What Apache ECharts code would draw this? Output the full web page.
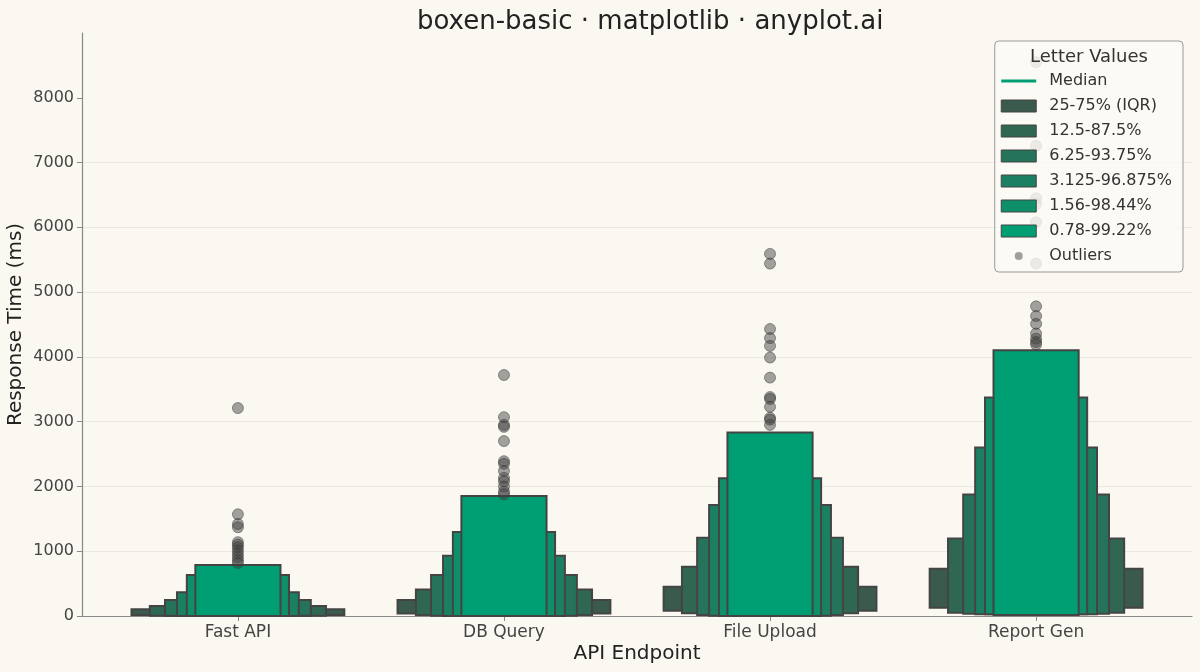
<!DOCTYPE html>
<html>
<head>
<meta charset="utf-8">
<script src="https://cdn.jsdelivr.net/npm/echarts@6/dist/echarts.min.js"></script>
<style>
html,body{margin:0;padding:0;background:#faf8f1;}
#main{width:1200px;height:672px;}
</style>
</head>
<body>
<div id="main"></div>
<script>
// categories and letter-value levels
var categories = ['Fast API', 'DB Query', 'File Upload', 'Report Gen'];
var levelNames = ['25-75% (IQR)', '12.5-87.5%', '6.25-93.75%', '3.125-96.875%', '1.56-98.44%', '0.78-99.22%'];

// box bottoms / tops per level (rows) and category (columns), in ms
var boxLow = [
  [15, 40, 82, 128],
  [5, 15, 41, 51],
  [2, 2, 15, 36],
  [1, 1, 2, 26],
  [1, 1, 1, 26],
  [1, 1, 1, 15]
];
var boxHigh = [
  [103, 247, 452, 730],
  [154, 411, 761, 1198],
  [247, 632, 1208, 1877],
  [365, 930, 1712, 2602],
  [632, 1296, 2128, 3373],
  [787, 1851, 2833, 4102]
];

// outliers per category
var fastOutliers = [3210, 1570, 1420, 1370, 1140, 1100, 1060, 1010, 960, 910, 860, 820];
var dbOutliers = [3720, 3070, 2950, 2920, 2700, 2390, 2350, 2240, 2130, 2080, 2000, 1920, 1880];
var uploadOutliers = [5590, 5440, 4430, 4290, 4170, 3990, 3680, 3380, 3350, 3230, 3060, 3030, 2950];
var reportOutliers = [8550, 7260, 6450, 6360, 6080, 5440, 4780, 4630, 4510, 4360, 4280, 4230, 4190];

var yTicks = [0, 1000, 2000, 3000, 4000, 5000, 6000, 7000, 8000];

// styles
var levelColors = ['#3a5a4d', '#2f6753', '#25735a', '#1a8061', '#0e8e69', '#009e73'];
var halfWidths = [0.40, 0.331, 0.274, 0.229, 0.192, 0.160];
var edgeColor = '#444444';
var font = 'DejaVu Sans';

var myChart = echarts.init(document.getElementById('main'));

var series = [];
series.push({
  name: 'Median',
  type: 'line',
  symbol: 'none',
  lineStyle: {color: '#009e73', width: 4},
  itemStyle: {color: '#009e73'},
  data: []
});

levelNames.forEach(function (name, k) {
  series.push({
    name: name,
    type: 'custom',
    z: 2,
    itemStyle: {color: levelColors[k], borderColor: edgeColor, borderWidth: 1},
    encode: {x: 0, y: [1, 2]},
    renderItem: function (params, api) {
      var x = api.value(0);
      var p0 = api.coord([x - halfWidths[k], api.value(2)]);
      var p1 = api.coord([x + halfWidths[k], api.value(1)]);
      return {
        type: 'rect',
        shape: {x: p0[0], y: p0[1], width: p1[0] - p0[0], height: p1[1] - p0[1]},
        style: {fill: levelColors[k], stroke: edgeColor, lineWidth: 2}
      };
    },
    data: categories.map(function (c, i) { return [i, boxLow[k][i], boxHigh[k][i]]; })
  });
});

var outlierData = [];
[fastOutliers, dbOutliers, uploadOutliers, reportOutliers].forEach(function (arr, i) {
  arr.forEach(function (v) { outlierData.push([i, v]); });
});
series.push({
  name: 'Outliers',
  type: 'scatter',
  z: 3,
  symbolSize: 11,
  itemStyle: {color: 'rgba(64,64,64,0.6)', borderColor: 'rgba(50,50,50,0.6)', borderWidth: 1},
  data: outlierData
});

// legend icons: shapes inside a 43x12 box so the text sits further right
var boxIcon = 'path://M0,0 L35,0 L35,12 L0,12 Z M43,0 L43,0';
var legendData = [{name: 'Median', icon: 'path://M0,4.5 L35,4.5 L35,7.5 L0,7.5 Z M0,0 L0,0 M43,12 L43,12',
  itemStyle: {color: '#009e73', borderWidth: 0}}];
levelNames.forEach(function (name, k) {
  legendData.push({name: name, icon: boxIcon, itemStyle: {color: levelColors[k], borderColor: edgeColor, borderWidth: 1}});
});
legendData.push({name: 'Outliers', icon: 'path://M13.5,6 A4,4 0 1,0 21.5,6 A4,4 0 1,0 13.5,6 Z M0,0 L0,0 M43,12 L43,12',
  itemStyle: {color: '#8a8a88', borderWidth: 0}});

var option = {
  backgroundColor: '#faf8f1',
  textStyle: {fontFamily: font},
  animation: false,
  title: {
    text: 'boxen-basic · matplotlib · anyplot.ai',
    left: 412,
    top: 4,
    textStyle: {fontFamily: font, fontSize: 26, fontWeight: 'normal', color: '#222'}
  },
  graphic: [{
    type: 'text',
    z: 100,
    x: 1089,
    y: 57,
    style: {text: 'Letter Values', align: 'center', verticalAlign: 'middle',
      font: '18px "DejaVu Sans"', fill: '#333'}
  }],
  legend: {
    orient: 'vertical',
    right: 17,
    top: 41,
    padding: [32, 11, 8, 6],
    itemGap: 9,
    itemWidth: 43,
    itemHeight: 12,
    backgroundColor: 'rgba(252,250,245,0.82)',
    borderColor: '#9a9a9a',
    borderWidth: 1,
    borderRadius: 4,
    selectedMode: false,
    textStyle: {fontFamily: font, fontSize: 16, color: '#333'},
    data: legendData
  },
  grid: {left: 82, right: 8, top: 33, bottom: 56, containLabel: false, outerBoundsMode: 'none'},
  xAxis: {
    type: 'value',
    min: -0.586,
    max: 3.586,
    name: 'API Endpoint',
    nameLocation: 'middle',
    nameGap: 28,
    nameMoveOverlap: false,
    nameTextStyle: {fontFamily: font, fontSize: 20, color: '#222'},
    axisLine: {onZero: false, lineStyle: {color: '#888', width: 1.2}},
    axisTick: {customValues: [0, 1, 2, 3], length: 5, lineStyle: {color: '#888'}},
    axisLabel: {
      customValues: [0, 1, 2, 3],
      margin: 8,
      fontSize: 17,
      color: '#444',
      formatter: function (v) { return categories[Math.round(v)]; }
    },
    splitLine: {show: false}
  },
  yAxis: {
    type: 'value',
    min: 0,
    max: 9000,
    interval: 1000,
    name: 'Response Time (ms)',
    nameLocation: 'middle',
    nameGap: 56,
    nameMoveOverlap: false,
    nameTextStyle: {fontFamily: font, fontSize: 20, color: '#222'},
    axisLine: {show: true, onZero: false, lineStyle: {color: '#888', width: 1.2}},
    axisTick: {show: true, customValues: yTicks, length: 5, lineStyle: {color: '#888'}},
    axisLabel: {customValues: yTicks, margin: 8, fontSize: 16, color: '#444',
      formatter: function (v) { return String(v); }},
    splitLine: {show: true, showMaxLine: false, lineStyle: {color: '#ebe8e1', width: 1}}
  },
  series: series
};

myChart.setOption(option);
window.addEventListener('resize', function () {
  myChart.resize();
});
</script>
</body>
</html>
